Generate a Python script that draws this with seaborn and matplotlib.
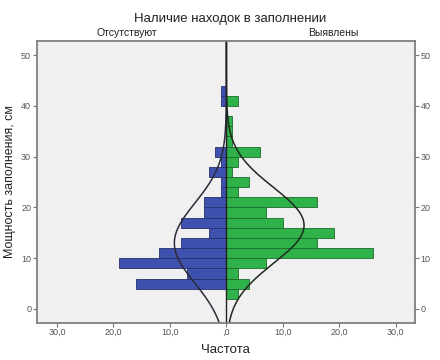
import numpy as np
import matplotlib
matplotlib.use("Agg")
import matplotlib.pyplot as plt
import seaborn as sns

# Binned depth (cm) counts, bin width 2 cm, values are bin centres
absent_depth = [5, 7, 9, 11, 13, 15, 17, 19, 21, 23, 25, 27, 29, 31, 41, 43]
absent_count = [16, 7, 19, 12, 8, 3, 8, 4, 4, 1, 1, 3, 1, 2, 1, 1]

found_depth = [3, 5, 7, 9, 11, 13, 15, 17, 19, 21, 23, 25, 27, 29, 31, 33, 35, 37, 41]
found_count = [2, 4, 2, 7, 26, 16, 19, 10, 7, 16, 2, 4, 1, 2, 6, 1, 1, 1, 2]

bin_width = 2
xticks = [-30, -20, -10, 0, 10, 20, 30]
xtick_labels = ["30,0", "20,0", "10,0", ",0", "10,0", "20,0", "30,0"]
yticks = [0, 10, 20, 30, 40, 50]

sns.set_style("white")
plt.rcParams["font.family"] = ["Liberation Sans", "DejaVu Sans"]

fig = plt.figure(figsize=(4.4, 3.6), dpi=100)
ax = fig.add_axes([0.0834, 0.1036, 0.8596, 0.7825])
ax.set_facecolor("#f0f0f0")

blue = "#3f51ae"
green = "#30b24b"

sns.barplot(x=-np.array(absent_count), y=absent_depth, orient="y", native_scale=True,
            width=1, color=blue, edgecolor="#26306a", linewidth=0.6, saturation=1, ax=ax)
sns.barplot(x=found_count, y=found_depth, orient="y", native_scale=True,
            width=1, color=green, edgecolor="#1d6b2c", linewidth=0.6, saturation=1, ax=ax)


def normal_curve(depth, count, ys):
    d = np.array(depth, dtype=float)
    c = np.array(count, dtype=float)
    n = c.sum()
    mu = (d * c).sum() / n
    sd = np.sqrt(((d - mu) ** 2 * c).sum() / (n - 1))
    return n * bin_width / (sd * np.sqrt(2 * np.pi)) * np.exp(-0.5 * ((ys - mu) / sd) ** 2)


ys = np.linspace(-2.7, 52.8, 400)
sns.lineplot(x=-normal_curve(absent_depth, absent_count, ys), y=ys, orient="y", sort=False,
             color="#2b2b3a", linewidth=1.1, ax=ax)
sns.lineplot(x=normal_curve(found_depth, found_count, ys), y=ys, orient="y", sort=False,
             color="#1e2a1e", linewidth=1.1, ax=ax)

ax.axvline(0, color="#222222", linewidth=1.0)

ax.set_xlim(-33.6, 33.4)
ax.set_ylim(-2.7, 52.8)
ax.set_xticks(xticks)
ax.set_xticklabels(xtick_labels)
ax.set_yticks(yticks)
ax.tick_params(axis="both", which="both", direction="out", length=3, width=0.8,
               color="#777777", labelsize=6.5, labelcolor="#555555", pad=1)
ax.tick_params(axis="y", left=True, right=True, labelleft=True, labelright=True)
ax.tick_params(axis="x", bottom=True)

for s in ax.spines.values():
    s.set_color("#7f7f7f")
    s.set_linewidth(1.3)

ax.set_xlabel("Частота", fontsize=9.5, color="#222222", labelpad=5)
ax.set_ylabel("Мощность заполнения, см", fontsize=9, color="#222222", labelpad=4)

fig.text(0.522, 0.947, "Наличие находок в заполнении", ha="center", va="center",
         fontsize=9.5, color="#222222")
fig.text(0.289, 0.908, "Отсутствуют", ha="center", va="center", fontsize=7.5, color="#222222")
fig.text(0.757, 0.908, "Выявлены", ha="center", va="center", fontsize=7.5, color="#222222")

fig.savefig("out.png", dpi=100)
plt.close(fig)
